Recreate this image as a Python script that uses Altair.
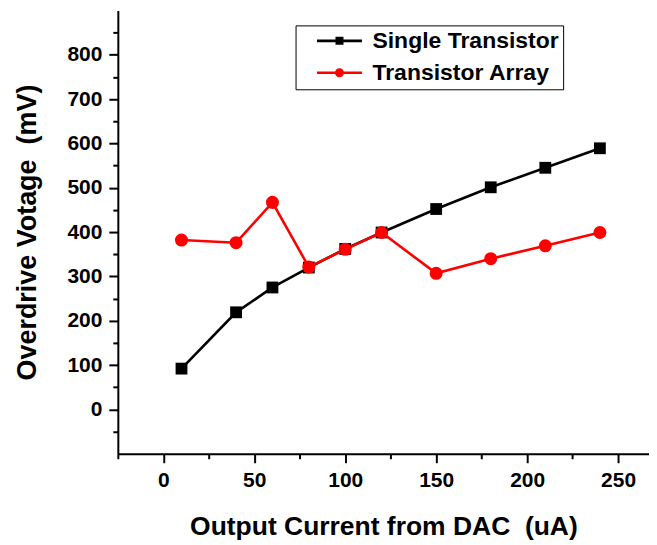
import altair as alt
import pandas as pd

# ---- data ----
x_vals = [10, 40, 60, 80, 100, 120, 150, 180, 210, 240]
single_vals = [92, 219, 275, 320, 362, 399, 452, 501, 545, 589]
array_vals = [382, 376, 467, 321, 361, 399, 307, 340, 369, 399]
series_names = ["Single Transistor", "Transistor Array"]
series_colors = ["#000000", "#ff0000"]
x_major = [0, 50, 100, 150, 200, 250]
x_minor = [-25, 25, 75, 125, 175, 225]
y_major = [0, 100, 200, 300, 400, 500, 600, 700, 800]
y_minor = [-50, 50, 150, 250, 350, 450, 550, 650, 750, 850]
x_domain = [-25, 267]
y_domain = [-100, 900]

df_single = pd.DataFrame({"x": x_vals, "y": single_vals, "series": series_names[0]})
df_array = pd.DataFrame({"x": x_vals, "y": array_vals, "series": series_names[1]})
df_all = pd.concat([df_single, df_array], ignore_index=True)

FONT = "Liberation Sans"
W, H = 532, 444

xs = alt.Scale(domain=x_domain, nice=False, zero=False)
ys = alt.Scale(domain=y_domain, nice=False, zero=False)

x_axis = alt.Axis(values=x_major, tickSize=9, tickWidth=2, domainWidth=2, domainColor="black",
                  tickColor="black", labelFont=FONT, labelFontWeight="bold", labelFontSize=21,
                  labelColor="black", labelPadding=7, labelFlush=False, labelOverlap=False,
                  title="Output Current from DAC\u00a0 (uA)", titleFont=FONT,
                  titleFontWeight="bold", titleFontSize=26.5, titleColor="black",
                  titlePadding=23, grid=False, orient="bottom")
y_axis = alt.Axis(values=y_major, tickSize=9, tickWidth=2, domainWidth=2, domainColor="black",
                  tickColor="black", labelFont=FONT, labelFontWeight="bold", labelFontSize=21,
                  labelColor="black", labelPadding=7, labelFlush=False, labelOverlap=False,
                  title="Overdrive Votage\u00a0 (mV)", titleFont=FONT,
                  titleFontWeight="bold", titleFontSize=27, titleColor="black",
                  titlePadding=25, grid=False, orient="left")

def series_layers(df, color, shape, size):
    base = alt.Chart(df)
    line = base.mark_line(color=color, strokeWidth=2.6).encode(
        x=alt.X("x:Q", scale=xs, axis=x_axis),
        y=alt.Y("y:Q", scale=ys, axis=y_axis),
    )
    pts = base.mark_point(color=color, filled=True, opacity=1, shape=shape, size=size).encode(
        x=alt.X("x:Q", scale=xs, axis=x_axis),
        y=alt.Y("y:Q", scale=ys, axis=y_axis),
    )
    return line + pts

black = series_layers(df_single, series_colors[0], "square", 140)
red = series_layers(df_array, series_colors[1], "circle", 170)

main = alt.layer(black, red)

# minor ticks layer
minor = alt.Chart(df_all).mark_point(opacity=0).encode(
    x=alt.X("x:Q", scale=xs, axis=alt.Axis(values=x_minor, tickSize=5, tickWidth=2,
                                            tickColor="black", labels=False, domain=False,
                                            title=None, grid=False, orient="bottom")),
    y=alt.Y("y:Q", scale=ys, axis=alt.Axis(values=y_minor, tickSize=5, tickWidth=2,
                                            tickColor="black", labels=False, domain=False,
                                            title=None, grid=False, orient="left")),
)

# legend-only layer: symbols are a line with a marker in its middle
LINE = "M-1,-0.13H3.5V0.13H-1Z"
SQ_PATH = LINE + "M0.85,-0.4H1.65V0.4H0.85Z"
CI_PATH = LINE + "M1.7,0A0.45,0.45 0 1,1 0.8,0A0.45,0.45 0 1,1 1.7,0Z"

legend_opts = dict(title=None, orient="none", legendX=178, legendY=15,
                   labelFont=FONT, labelFontWeight="bold", labelFontSize=23,
                   labelColor="black", symbolSize=400, symbolOpacity=1,
                   symbolStrokeWidth=0, symbolOffset=16, labelOffset=34,
                   padding=4, rowPadding=8, strokeColor="black",
                   fillColor="white", labelLimit=400)

legend_layer = alt.Chart(df_all).mark_point(opacity=0, filled=True, size=400).encode(
    x=alt.X("x:Q", scale=xs, axis=None),
    y=alt.Y("y:Q", scale=ys, axis=None),
    color=alt.Color("series:N", scale=alt.Scale(domain=series_names, range=series_colors),
                    legend=alt.Legend(**legend_opts)),
    shape=alt.Shape("series:N", scale=alt.Scale(domain=series_names, range=[SQ_PATH, CI_PATH]),
                    legend=alt.Legend(**legend_opts)),
)

chart = alt.layer(minor, main, legend_layer).resolve_axis(
    x="independent", y="independent"
).properties(
    width=W, height=H,
    padding={"left": 5, "top": 2, "right": 0, "bottom": 0},
    background="white",
).configure_view(stroke=None)

chart.save("out.html", embed_options={"renderer": "svg", "actions": False})
